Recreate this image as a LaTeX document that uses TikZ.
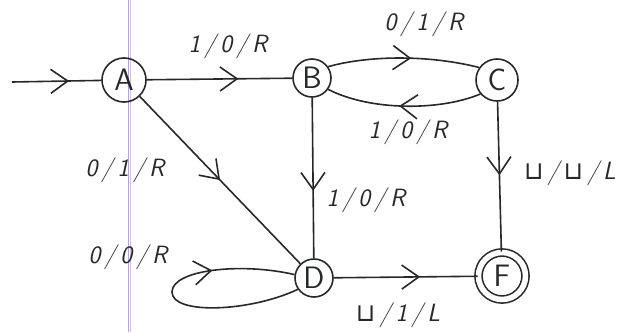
\documentclass[tikz,border=0pt]{standalone}
\usepackage{fontspec}
\newfontfamily\symfam{DejaVu Sans}
\usetikzlibrary{arrows.meta,decorations.markings}
\definecolor{ink}{RGB}{38,42,38}
\definecolor{marginblue}{RGB}{160,165,245}
\definecolor{marginpink}{RGB}{245,175,225}
\newcommand{\blanksym}{{\symfam\upshape ⊔}}
\begin{document}
\begin{tikzpicture}[x=1pt,y=-1pt,
  state/.style={circle,draw=ink,line width=1.6pt,inner sep=0pt,
    font=\sffamily\fontsize{31}{31}\selectfont,text=ink},
  lbl/.style={font=\sffamily\slshape\fontsize{25}{25}\selectfont,text=ink,inner sep=0pt},
  edge/.style={draw=ink,line width=1.6pt},
  midarrow/.style={postaction={decorate},
    decoration={markings,mark=at position #1 with
      {\arrow[ink,line width=1.6pt]{Straight Barb[length=17pt,width=24pt]}}}}
]
% paper and its margin rule
\fill[white] (0,0) rectangle (631,332);
\useasboundingbox (0,0) rectangle (631,332);
\draw[marginblue,line width=1.2pt] (128.6,0) -- (128.6,332);
\draw[marginpink,line width=1.2pt] (130.4,0) -- (130.4,332);

% states
\node[state,minimum size=44pt] (A) at (124,80) {A};
\node[state,minimum size=38pt] (B) at (312,78) {B};
\node[state,minimum size=42pt] (C) at (497,80) {C};
\node[state,minimum size=38pt] (D) at (314,278) {D};
\node[state,minimum size=47pt,double=white,double distance=5.5pt] (F) at (502,276) {F};
\coordinate (start) at (12,82);

% transitions
\draw[edge,midarrow=0.64] (start) -- (A);
\draw[edge,midarrow=0.63] (A) -- (B);
\draw[edge,midarrow=0.55] (B.35) .. controls (370,55) and (430,55) .. (C.145);
\draw[edge,midarrow=0.53] (C.220) .. controls (440,111) and (370,111) .. (B.-35);
\draw[edge,midarrow=0.58] (B) -- (D);
\draw[edge,midarrow=0.50] (A) -- (D);
\draw[edge,midarrow=0.49] (C) -- (F);
\draw[edge,midarrow=0.60] (D) -- (F);
\draw[edge,midarrow=0.69] (D.215) .. controls (250,312) and (172,315) .. (172,292)
  .. controls (172,270) and (240,262) .. (D.170);

% transition labels
\node[lbl] (lab) at (228,46) {1\,/\,0\,/\,R};
\node[lbl] (lbc) at (424,24) {0\,/\,1\,/\,R};
\node[lbl] (lcb) at (408,132) {1\,/\,0\,/\,R};
\node[lbl] (lbd) at (366,200) {1\,/\,0\,/\,R};
\node[lbl] (lad) at (125,170) {0\,/\,1\,/\,R};
\node[lbl] (ldd) at (128,257) {0\,/\,0\,/\,R};
\node[lbl] (lcf) at (570,173) {\blanksym\,/\,\blanksym\,/\,L};
\node[lbl] (ldf) at (398,315) {\blanksym\,/\,1\,/\,L};
\end{tikzpicture}
\end{document}
